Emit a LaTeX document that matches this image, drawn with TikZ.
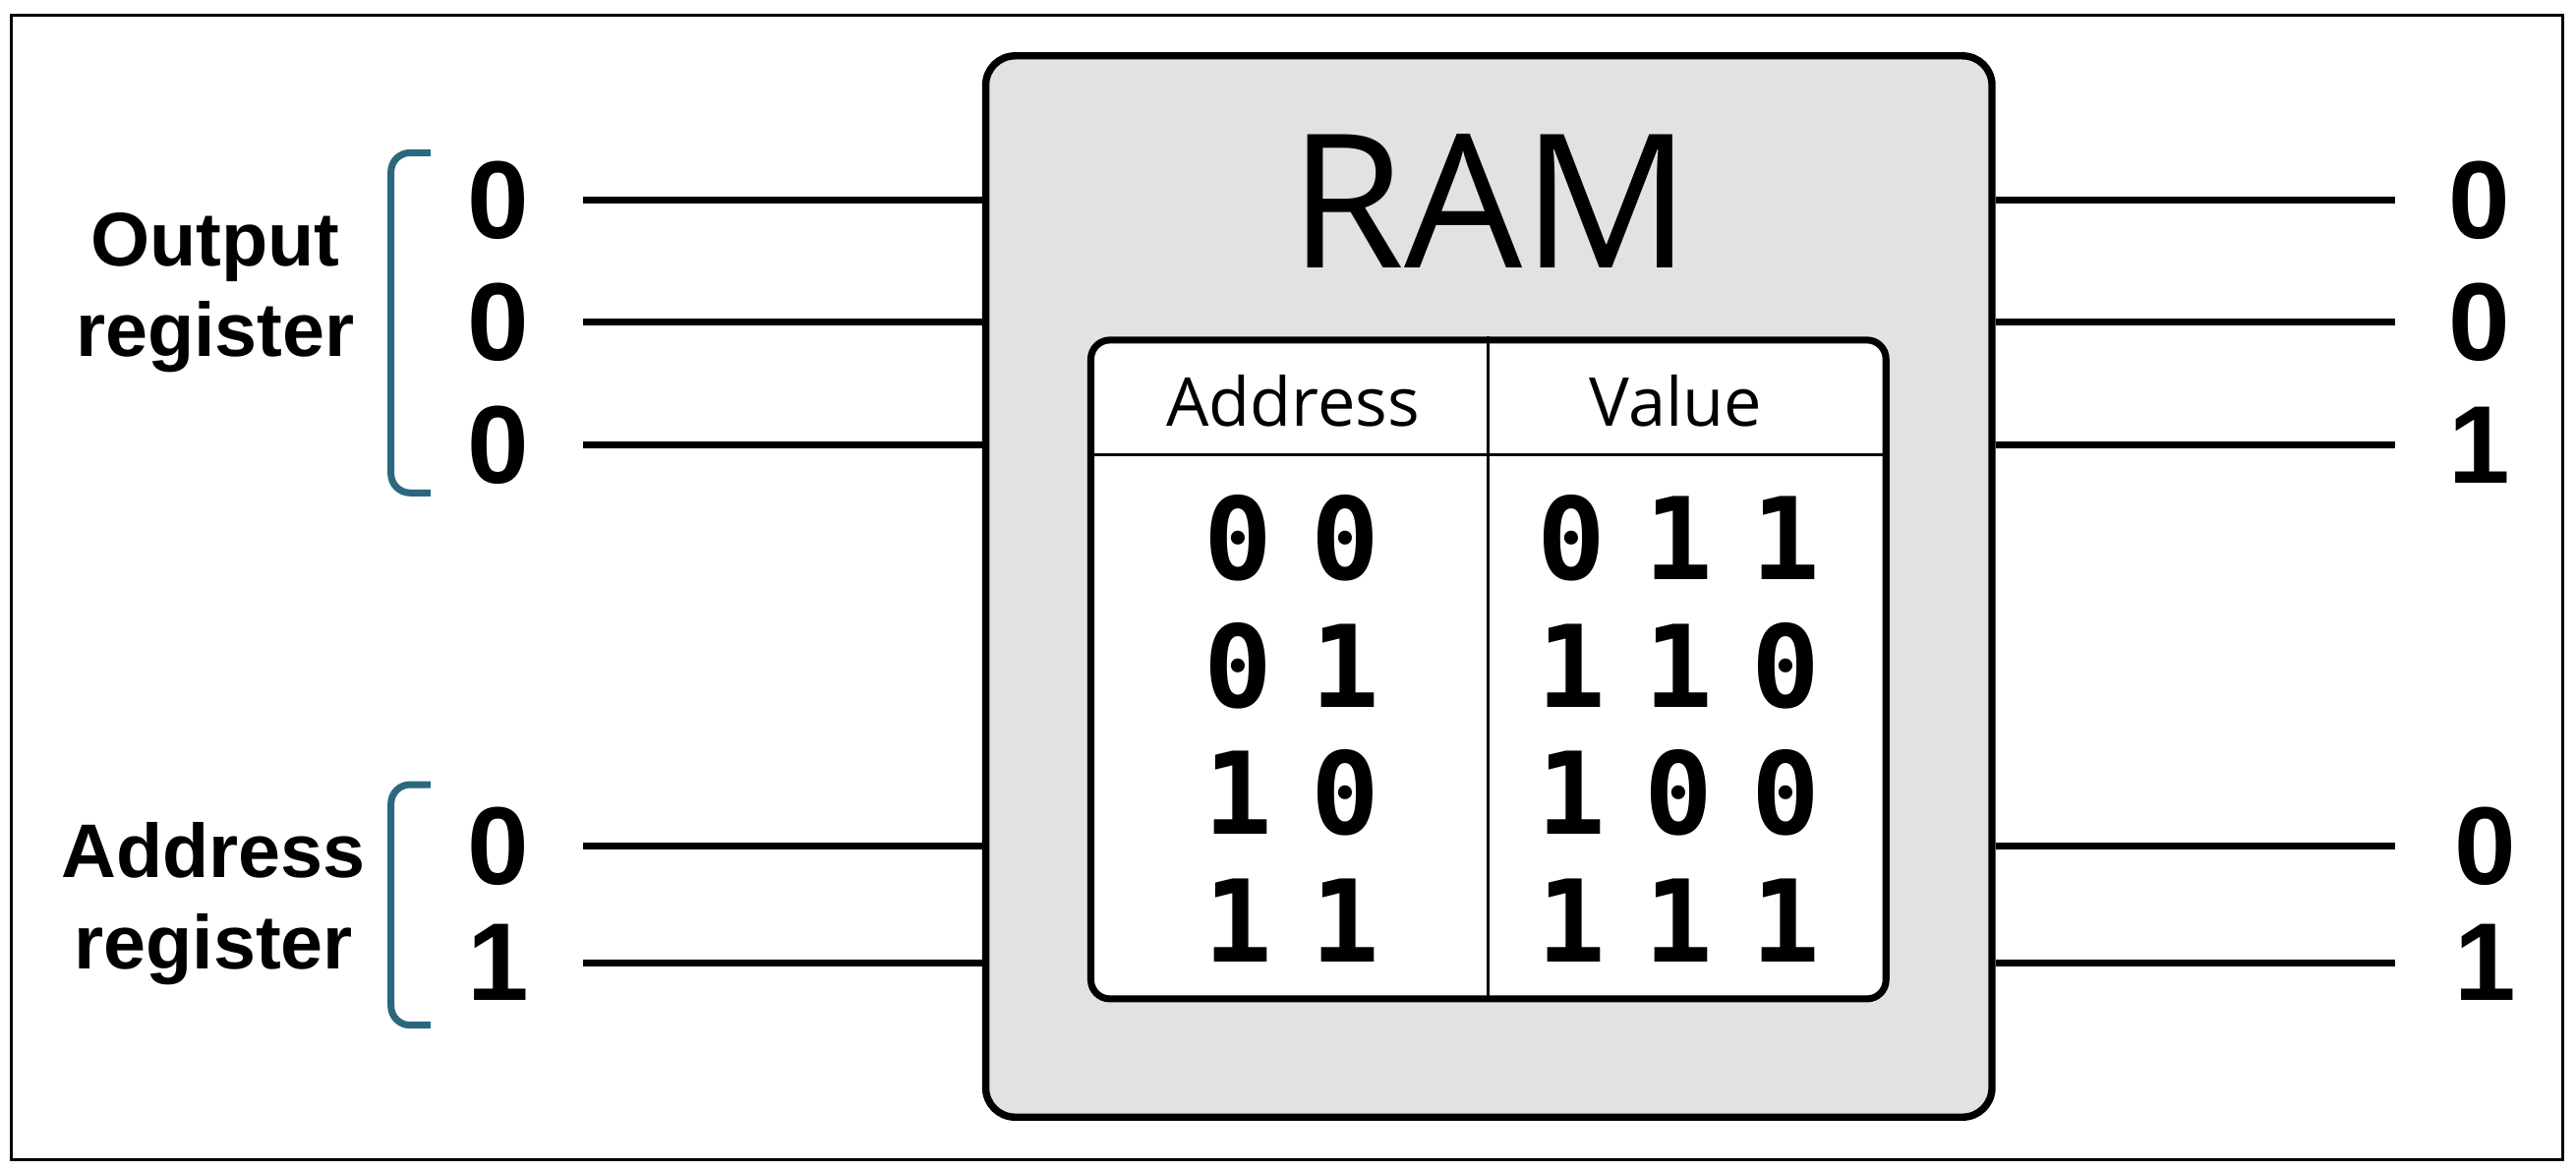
\documentclass[tikz,border=0pt]{standalone}
\usepackage{fontspec}
\usetikzlibrary{fit}
\newfontfamily\ramfont{Open Sans}
\newfontfamily\labelfont{Liberation Sans}
\newfontfamily\bitfont{DejaVu Sans Mono}
\definecolor{ramgray}{RGB}{225,227,226}
\definecolor{regteal}{RGB}{43,104,128}
\newcommand{\bitgap}{\hspace{0.34em}}

\begin{document}
\begin{tikzpicture}[x=0.01671cm, y=-0.01671cm,
wire/.style={line width=2pt},
rambox/.style={draw, line width=2.1pt, fill=ramgray, rounded corners=8.5pt, inner sep=0pt},
tablebox/.style={draw, line width=2pt, fill=white, rounded corners=5.5pt, inner sep=0pt},
regbracket/.style={draw=regteal, line width=2pt, rounded corners=5.5pt},
reglabel/.style={font=\labelfont\bfseries\fontsize{22}{26}\selectfont, anchor=base, inner sep=0pt},
bitlabel/.style={font=\labelfont\bfseries\fontsize{32}{36}\selectfont, inner sep=0pt},
headlabel/.style={font=\ramfont\fontsize{19.5}{24}\selectfont, anchor=base, inner sep=0pt},
bitcell/.style={font=\bitfont\bfseries\fontsize{33}{36}\selectfont, anchor=base, inner sep=0pt}]

\useasboundingbox (0,0) rectangle (1568,712);
\draw[line width=0.8pt] (7,9.5) rectangle (1560,706);

% the RAM chip and its table
\node[rambox, fit={(600,34) (1212.5,680)}] (ram) {};
\node[font=\ramfont\fontsize{54}{60}\selectfont, anchor=base, inner sep=0pt] (title) at (907,162.8) {RAM};
\node[tablebox, fit={(664,207) (1148,608)}] (tbl) {};
\coordinate (hdr) at (906,277);
\draw[line width=0.8pt] (tbl.west |- hdr) -- (tbl.east |- hdr);
\draw[line width=0.8pt] (tbl.north -| hdr) -- (tbl.south -| hdr);
\node[headlabel] (hadr) at (787,259.7) {Address};
\node[headlabel] (hval) at (1020,259.7) {Value};
\foreach \adr/\val [count=\r] in {0\bitgap0/0\bitgap1\bitgap1, 0\bitgap1/1\bitgap1\bitgap0,
                                  1\bitgap0/1\bitgap0\bitgap0, 1\bitgap1/1\bitgap1\bitgap1}{
  \node[bitcell] (adr\r) at (786.5,{353+(\r-1)*77.5}) {\adr};
  \node[bitcell] (val\r) at (1022,{353+(\r-1)*77.5}) {\val};
}

% registers on the left
\node[reglabel] (outlbl) at (131,162) {Output};
\node[reglabel] (outreg) at (131,217) {register};
\node[reglabel] (adrlbl) at (130,534) {Address};
\node[reglabel] (adrreg) at (130,590) {register};
\draw[regbracket] (262,93) -- (238,93) -- (238,300) -- (262,300);
\draw[regbracket] (262,477.6) -- (238,477.6) -- (238,624) -- (262,624);
\foreach \y/\b [count=\i] in {122/0,196/0,271/0,515/0,586/1}{
  \node[bitlabel] (inb\i) at (303,\y) {\b};
  \coordinate (inw\i) at (355,\y);
  \draw[wire] (inw\i) -- (inw\i -| ram.west);
}

% outputs on the right
\foreach \y/\x/\b [count=\i] in {122/1509/0,196/1509/0,271/1509/1,515/1513/0,586/1513/1}{
  \node[bitlabel] (outb\i) at (\x,\y) {\b};
  \coordinate (outw\i) at (1458,\y);
  \draw[wire] (ram.east |- outw\i) -- (outw\i);
}

\end{tikzpicture}
\end{document}
